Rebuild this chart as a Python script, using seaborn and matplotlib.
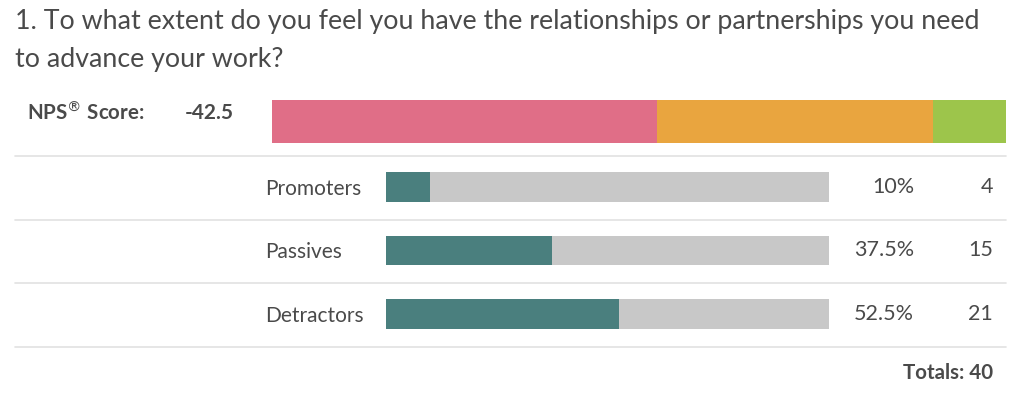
import matplotlib
matplotlib.use("Agg")
import matplotlib.pyplot as plt
import seaborn as sns
import pandas as pd

# data
title_lines = ["1. To what extent do you feel you have the relationships or partnerships you need",
               "to advance your work?"]
nps_score = -42.5
categories = ["Promoters", "Passives", "Detractors"]
percents = [10, 37.5, 52.5]
counts = [4, 15, 21]
total = 40

# colours
pink, orange, green = "#E06E87", "#E9A53F", "#9DC54B"
teal, grey = "#4A7F7E", "#C8C8C8"
line_col = "#E2E2E2"
text_col = "#4A4A4A"

sns.set_theme(style="white")
plt.rcParams["font.family"] = ["Lato", "DejaVu Sans"]

W, H = 1024, 397
fig = plt.figure(figsize=(W / 100, H / 100), dpi=100)

# background axes in pixel coords for text and rules
bg = fig.add_axes([0, 0, 1, 1])
bg.set_xlim(0, W)
bg.set_ylim(H, 0)
bg.axis("off")

bg.text(15, 22, title_lines[0], fontsize=19.3, color=text_col, va="center", ha="left")
bg.text(15, 60, title_lines[1], fontsize=19.3, color=text_col, va="center", ha="left")
bg.text(27, 113, "NPS$^{®}$ Score:", fontsize=14.8, fontweight="bold", color=text_col, va="center")
bg.text(185, 113, f"{nps_score}", fontsize=15, fontweight="bold", color=text_col, va="center")

for y in [156, 220, 283, 347]:
    bg.plot([15, 1006], [y, y], color=line_col, lw=1.2)

row_y = [187, 250, 314]
for y, p, c in zip(row_y, percents, counts):
    bg.text(914, y, f"{p:g}%", fontsize=15.5, color=text_col, va="center", ha="right")
    bg.text(993, y, f"{c}", fontsize=15.5, color=text_col, va="center", ha="right")
bg.text(993, 373, f"Totals: {total}", fontsize=14.8, fontweight="bold", color=text_col,
        va="center", ha="right")

# NPS stacked bar: detractors, passives, promoters
ax_nps = fig.add_axes([272 / W, 1 - 143 / H, 734 / W, 43 / H])
left = 0
for v, col in zip([percents[2], percents[1], percents[0]], [pink, orange, green]):
    ax_nps.barh(0, v, left=left, height=1.0, color=col, edgecolor="none")
    left += v
ax_nps.set_xlim(0, 100)
ax_nps.set_ylim(-0.5, 0.5)
ax_nps.axis("off")

# response bars
ax_rows = fig.add_axes([386 / W, 1 - 345.75 / H, 443 / W, 190.5 / H])
ax_rows.patch.set_alpha(0)
df = pd.DataFrame({"category": categories, "percent": percents, "full": [100] * 3})
sns.barplot(data=df, x="full", y="category", color=grey, width=0.47, saturation=1,
            linewidth=0, ax=ax_rows)
sns.barplot(data=df, x="percent", y="category", color=teal, width=0.47, saturation=1,
            linewidth=0, ax=ax_rows)
ax_rows.set_xlim(0, 100)
ax_rows.set_ylim(2.5, -0.5)
ax_rows.set_xlabel("")
ax_rows.set_ylabel("")
ax_rows.set_xticks([])
# labels left-aligned at x=265 px, i.e. 121 px left of the bars
ax_rows.tick_params(axis="y", length=0, pad=121 * 0.72, labelsize=15, labelcolor=text_col)
for lab in ax_rows.get_yticklabels():
    lab.set_horizontalalignment("left")
for s in ax_rows.spines.values():
    s.set_visible(False)

fig.savefig("out.png", dpi=100)
